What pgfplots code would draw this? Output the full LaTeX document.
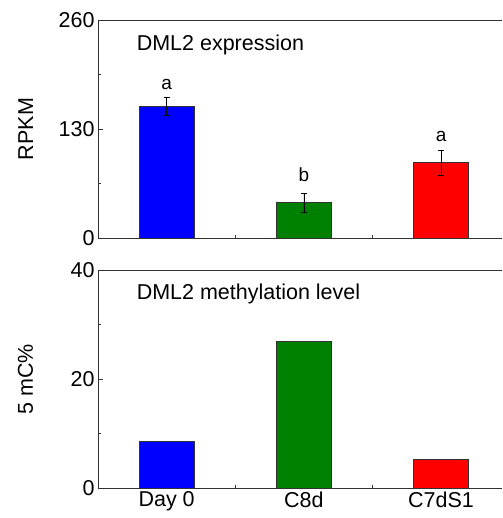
\documentclass[border=0pt]{standalone}
\usepackage{pgfplots}
\pgfplotsset{compat=1.18}
\usepackage{fontspec}
\setmainfont{Liberation Sans}
\newcommand\bigf{\fontsize{21.5}{26}\selectfont}
\newcommand\midf{\fontsize{19}{23}\selectfont}
\definecolor{axgray}{RGB}{50,50,50}
\definecolor{barblue}{RGB}{0,0,255}
\definecolor{bargreen}{RGB}{0,128,0}
\definecolor{barred}{RGB}{255,0,0}
\pgfplotsset{
  panel/.style={
    scale only axis, width=404pt, height=218pt,
    xmin=-0.5, xmax=2.444,
    axis x line=box, axis y line=left,
    axis line style={-, axgray, line width=0.9pt},
    every tick/.style={axgray, line width=0.9pt},
    tick align=inside, xtick pos=bottom, ytick pos=left,
    major tick length=5pt, minor tick length=3pt,
    xtick={0,1,2}, minor xtick={0.5,1.5},
    tick label style={font=\bigf},
    /pgf/number format/assume math mode=true,
    every axis y label/.style={at={(axis description cs:-0.160,0.5)}, rotate=90, anchor=south, inner sep=0pt, font=\bigf},
  },
  bars/.style={ybar, bar width=0.4, bar shift=0pt, draw=axgray, line width=0.6pt},
  errs/.style={error bars/.cd, y dir=both, y explicit,
    error bar style={black, line width=0.5pt},
    error mark=|, error mark options={black, mark size=3pt, line width=0.5pt}},
}
\begin{document}
\begin{tikzpicture}
% top panel
\begin{axis}[panel, at={(0pt,250.3pt)}, anchor=south west,
  ymin=0, ymax=260, ytick={0,130,260}, minor ytick={65,195},
  xticklabels={}, ylabel={RPKM}]
\addplot[bars, fill=barblue, errs] coordinates {(0,157.4) +- (0,11)};
\addplot[bars, fill=bargreen, errs] coordinates {(1,42.1) +- (0,11)};
\addplot[bars, fill=barred, errs] coordinates {(2,89.8) +- (0,14.5)};
\node[anchor=base, inner sep=0pt, font=\midf] at (axis cs:0,177.4) {a};
\node[anchor=base, inner sep=0pt, font=\midf] at (axis cs:1,67.1) {b};
\node[anchor=base, inner sep=0pt, font=\midf] at (axis cs:2,114.8) {a};
\node[anchor=base west, inner sep=0pt, font=\bigf] at (axis cs:-0.219,224.2) {DML2 expression};
\end{axis}
% bottom panel
\begin{axis}[panel, at={(0pt,0pt)}, anchor=south west,
  ymin=0, ymax=40, ytick={0,20,40}, minor ytick={10,30},
  xticklabels={Day 0, C8d, C7dS1}, ylabel={5 mC\%}]
\addplot[bars, fill=barblue] coordinates {(0,8.68)};
\addplot[bars, fill=bargreen] coordinates {(1,27.0)};
\addplot[bars, fill=barred] coordinates {(2,5.25)};
\node[anchor=base west, inner sep=0pt, font=\bigf] at (axis cs:-0.219,34.55) {DML2 methylation level};
\end{axis}
\pgfresetboundingbox
\useasboundingbox (-98pt,-29.7pt) rectangle (404pt,488.3pt);
\end{tikzpicture}
\end{document}
